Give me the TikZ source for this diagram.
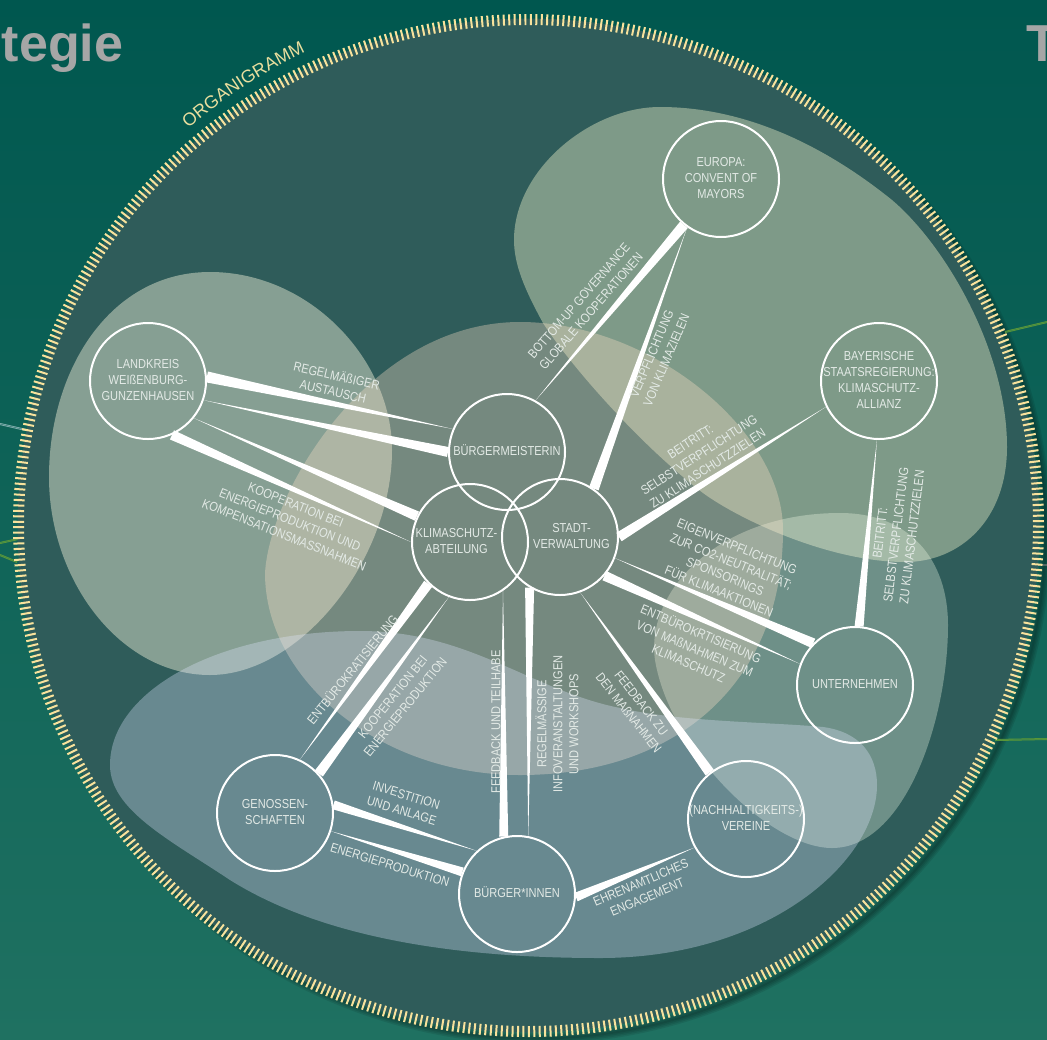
\documentclass[tikz,border=0pt]{standalone}
\usepackage{fontspec}
\setmainfont{Liberation Sans}
\newfontfamily\labfont[FakeStretch=0.85]{Liberation Sans}
\usetikzlibrary{calc,decorations.text}
\definecolor{bgtop}{HTML}{00574F}
\definecolor{bgbot}{HTML}{1F7161}
\definecolor{disc}{HTML}{2F5C5A}
\definecolor{tick}{HTML}{F8E29C}
\definecolor{labcol}{HTML}{E3EAE6}
\definecolor{headcol}{HTML}{A6A6A6}
\definecolor{orgcol}{HTML}{E8DE9E}
\definecolor{outgreen}{HTML}{5F9A35}
\definecolor{outblue}{HTML}{8FB8B8}
\tikzset{
  blobeu/.style={fill={rgb,255:red,237;green,240;blue,200},fill opacity=.42},
  bloblk/.style={fill={rgb,255:red,255;green,254;blue,228},fill opacity=.42},
  blobct/.style={fill={rgb,255:red,250;green,223;blue,198},fill opacity=.35},
  blobbg/.style={fill={rgb,255:red,223;green,231;blue,254},fill opacity=.33},
  blobun/.style={fill={rgb,255:red,245;green,255;blue,235},fill opacity=.32},
  org/.style={circle,draw=white,line width=2pt,minimum size=116pt,inner sep=0pt,outer sep=1pt,text=labcol,font=\labfont\fontsize{13}{16}\selectfont},
  lab/.style={text=labcol,align=center,inner sep=0pt,font=\labfont\fontsize{13}{16}\selectfont},
  outline/.style={line width=.6pt,double distance=.8pt,double=outgreen!60!bgbot,draw=outgreen},
  shadowring/.style={black,opacity=.09},
  conn/.style={fill=white,draw=none},
}
\newcommand{\taper}[3]{\fill[conn] ($(#1)!#3!90:(#2)$) -- ($(#1)!#3!-90:(#2)$) -- (#2) -- cycle;}
\newcommand{\ctext}[2][0pt]{\makebox[0pt][c]{\hspace*{#1}\begin{tabular}{@{}c@{}}#2\end{tabular}}}
\begin{document}
\begin{tikzpicture}[x=1pt,y=-1pt]
\useasboundingbox (0,0) rectangle (1047,1039);
\clip (0,0) rectangle (1047,1039);
\shade[top color=bgtop,bottom color=bgbot,draw=none] (0,0) rectangle (1047,1039);
% shadow of the disc
\foreach \w in {2,5,8,11}{\draw[shadowring,line width=\w pt] (535.5,532.5) ellipse [x radius=510,y radius=506];}
% outer stubs
\draw[outline,draw=outblue,double=bgtop!50!outblue] (0,424) -- (26,430);
\draw[outline] (0,543) -- (18,539);
\draw[outline] (0,555) -- (17,562);
\draw[outline] (1047,322) -- (1005,332);
\draw[outline] (1047,739) -- (995,740);
\draw[gray,opacity=.6,line width=1.5pt] (1047,565) -- (1032,565);
% disc and ring
\fill[disc] (528.5,525.5) ellipse [x radius=511,y radius=507];
\draw[tick,line width=11pt,dash pattern=on 2pt off 3.42pt] (528.5,525.5) ellipse [x radius=510,y radius=506];
% headings
\node[anchor=base east,inner sep=0pt,text=headcol,font=\fontsize{52}{52}\selectfont\bfseries] (headl) at (123.5,61) {tegie};
\node[anchor=base west,inner sep=0pt,text=headcol,font=\fontsize{52}{52}\selectfont\bfseries] (headr) at (1026,61) {T};
\begin{scope}[y=1pt]
\path[decorate,decoration={text along path,text align=center,
  text={|\fontsize{18}{18}\selectfont\color{orgcol}|ORGANIGRAMM}}]
  ([shift={(133:523)}]528.5,-525.5) arc[start angle=133,end angle=112.8,radius=523];
\end{scope}
% blobs
\path[blobeu] (514,240) .. controls (514,170) and (590,107) .. (660,107)
  .. controls (750,107) and (830,150) .. (892,200)
  .. controls (945,245) and (1007,350) .. (1007,447)
  .. controls (1007,520) and (960,562) .. (905,562)
  .. controls (830,562) and (740,520) .. (703,493)
  .. controls (640,445) and (570,365) .. (543,323)
  .. controls (525,290) and (514,265) .. (514,240) -- cycle;
\path[bloblk] (49,477) .. controls (49,370) and (110,272) .. (210,272)
  .. controls (310,272) and (392,360) .. (392,450)
  .. controls (392,560) and (300,675) .. (210,675)
  .. controls (120,675) and (49,580) .. (49,477) -- cycle;
\path[blobun] (655,660) .. controls (645,590) and (720,513) .. (840,513)
  .. controls (910,513) and (948,560) .. (948,625)
  .. controls (948,720) and (905,848) .. (832,848)
  .. controls (770,848) and (670,750) .. (655,660) -- cycle;
\path[blobct] (265,573) .. controls (270,490) and (370,322) .. (520,322)
  .. controls (650,322) and (783,430) .. (783,530)
  .. controls (783,680) and (680,775) .. (520,775)
  .. controls (380,775) and (265,680) .. (265,573) -- cycle;
\path[blobbg] (110,765) .. controls (110,690) and (220,631) .. (360,631)
  .. controls (470,631) and (530,690) .. (620,708)
  .. controls (680,722) and (770,722) .. (823,727)
  .. controls (860,732) and (877,755) .. (877,785)
  .. controls (877,860) and (770,958) .. (600,958)
  .. controls (430,958) and (310,930) .. (230,880)
  .. controls (170,840) and (110,810) .. (110,765) -- cycle;
% organisations
\node[org] (eu) at (721,179) {\ctext{EUROPA:\\CONVENT OF\\MAYORS}};
\node[org] (by) at (879,381) {\ctext{BAYERISCHE\\STAATSREGIERUNG:\\KLIMASCHUTZ-\\ALLIANZ}};
\node[org] (lk) at (148,381) {\ctext{LANDKREIS\\WEIßENBURG-\\GUNZENHAUSEN}};
\node[org] (bm) at (507,452) {\ctext{BÜRGERMEISTERIN}};
\node[org] (kl) at (470,542) {\ctext[-27pt]{KLIMASCHUTZ-\\ABTEILUNG}};
\node[org] (st) at (560,537) {\ctext[23pt]{STADT-\\VERWALTUNG}};
\node[org] (un) at (855,685) {\ctext{UNTERNEHMEN}};
\node[org] (ve) at (746,819) {\ctext{(NACHHALTIGKEITS-)\\VEREINE}};
\node[org] (bu) at (517,894) {\ctext{BÜRGER*INNEN}};
\node[org] (ge) at (275,813) {\ctext{GENOSSEN-\\SCHAFTEN}};
% tapered connectors: wide end, tip, half width
\taper{lk.4}{bm.157}{5.5pt}
\taper{bm.180}{lk.-19}{5pt}
\taper{kl.154.7}{lk.-39.7}{5pt}
\taper{lk.-66}{kl.180}{5pt}
\taper{kl.225.6}{ge.65}{5pt}
\taper{ge.42.5}{kl.249}{5pt}
\taper{bu.103}{kl.-56.3}{4.5pt}
\taper{st.239.7}{bu.79}{4.5pt}
\taper{ve.128.8}{st.-70}{5pt}
\taper{ge.8}{bu.133}{4.5pt}
\taper{bu.158.6}{ge.-18}{4.5pt}
\taper{bu.-3}{ve.209.5}{4.5pt}
\taper{eu.231}{bm.61.4}{5pt}
\taper{st.55.6}{eu.235.8}{5pt}
\taper{st.0}{by.206.6}{5pt}
\taper{un.86}{by.268}{4.5pt}
\taper{un.135}{st.-21.6}{5pt}
\taper{st.-41.9}{un.159.2}{5pt}
% connector labels
\node[lab,rotate=-13] (t1) at (335,383) {REGELMÄßIGER\\AUSTAUSCH};
\node[lab,rotate=-21.5] (t2) at (290,520) {KOOPERATION BEI\\ENERGIEPRODUKTION UND\\KOMPENSATIONSMASSNAHMEN};
\node[lab,rotate=49] (t3) at (585,306) {BOTTOM-UP GOVERNANCE\\GLOBALE KOOPERATIONEN};
\node[lab,rotate=67] (t4) at (659,357) {VERPFLICHTUNG\\VON KLIMAZIELEN};
\node[lab,rotate=33] (t5) at (699,455) {BEITRITT:\\SELBSTVERPFLICHTUNG\\ZU KLIMASCHUTZZIELEN};
\node[lab,rotate=-22] (t6) at (728,569) {EIGENVERPFLICHTUNG\\ZUR CO2-NEUTRALITÄT;\\SPONSORINGS\\FÜR KLIMAAKTIONEN};
\node[lab,rotate=-23] (t7) at (695,648) {ENTBÜROKRTISIERUNG\\VON MAßNAHMEN ZUM\\KLIMASCHUTZ};
\node[lab,rotate=83] (t8) at (896,535) {BEITRITT:\\SELBSTVERPFLICHTUNG\\ZU KLIMASCHUTZZIELEN};
\node[lab,rotate=51] (t9) at (352,669) {ENTBÜROKRATISIERUNG};
\node[lab,rotate=51] (t10) at (399,702) {KOOPERATION BEI\\ENERGIEPRODUKTION};
\node[lab,rotate=90] (t11) at (496,722) {FEEDBACK UND TEILHABE};
\node[lab,rotate=90] (t12) at (557,724) {REGELMÄSSIGE\\INFOVERANSTALTUNGEN\\UND WORKSHOPS};
\node[lab,rotate=-52] (t13) at (635,708) {FEEDBACK ZU\\DEN MAßNAHMEN};
\node[lab,rotate=-17] (t14) at (404,803) {INVESTITION\\UND ANLAGE};
\node[lab,rotate=-17] (t15) at (390,865) {ENERGIEPRODUKTION};
\node[lab,rotate=23] (t16) at (644,890) {EHRENAMTLICHES\\ENGAGEMENT};
\end{tikzpicture}
\end{document}
